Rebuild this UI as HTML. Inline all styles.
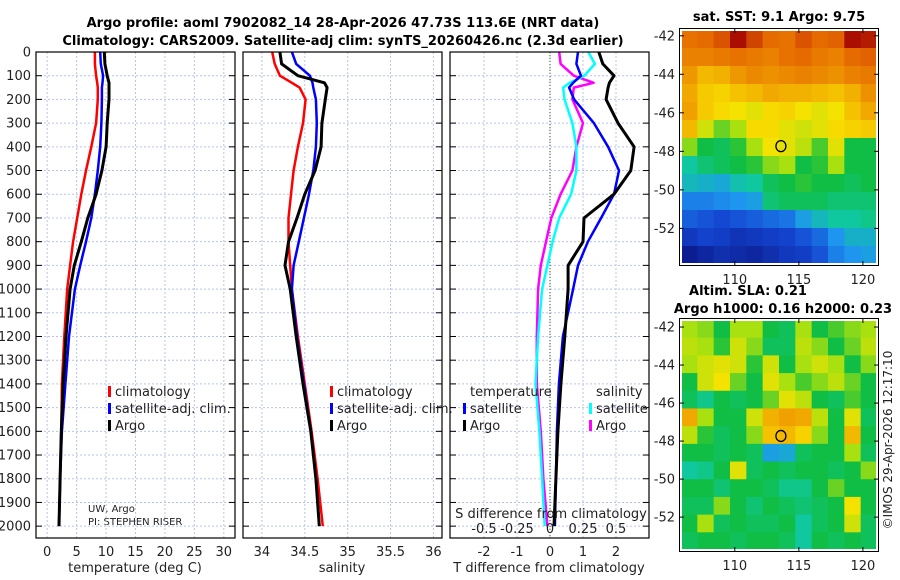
<!DOCTYPE html>
<html><head><meta charset="utf-8">
<style>
html,body{margin:0;padding:0;background:#fff;}
svg{display:block;font-family:"DejaVu Sans","Liberation Sans",sans-serif;}
</style></head>
<body>
<svg id="c" width="900" height="580" viewBox="0 0 900 580" xmlns="http://www.w3.org/2000/svg">
<text x="343" y="27" font-size="13" font-weight="bold" text-anchor="middle">Argo profile: aoml 7902082_14 28-Apr-2026 47.73S 113.6E (NRT data)</text>
<text x="343" y="45" font-size="13" font-weight="bold" text-anchor="middle">Climatology: CARS2009. Satellite-adj clim: synTS_20260426.nc (2.3d earlier)</text>
<text x="779" y="21" font-size="13" font-weight="bold" text-anchor="middle">sat. SST: 9.1 Argo: 9.75</text>
<text x="748" y="295" font-size="13" font-weight="bold" text-anchor="middle">Altim. SLA: 0.21</text>
<text x="783" y="313" font-size="13" font-weight="bold" text-anchor="middle">Argo h1000: 0.16 h2000: 0.23</text>
<text transform="translate(892,440) rotate(-90)" font-size="12" text-anchor="middle" fill="#222">©IMOS 29-Apr-2026 12:17:10</text>
<text x="88" y="512" font-size="10" fill="#222">UW, Argo</text>
<text x="88" y="525" font-size="10" fill="#222">PI: STEPHEN RISER</text>
</svg>
<script>
// ---------- data ----------
const depths = [0,50,100,130,150,200,300,400,500,600,700,800,900,1000,1200,1400,1600,1800,2000];
const tempArgo = [9.7,9.8,10.2,10.5,10.5,10.5,10.2,10.0,9.3,8.3,6.9,5.8,4.6,3.9,3.2,2.7,2.4,2.2,2.0];
const tempSat  = [9.0,9.1,9.5,9.4,9.3,9.3,9.2,9.0,8.6,8.1,7.5,6.6,5.6,4.7,3.7,3.1,2.5,2.2,2.0];
const tempClim = [8.1,8.1,8.3,8.5,8.6,8.6,8.3,7.5,6.6,5.8,5.1,4.4,3.9,3.4,2.9,2.5,2.4,2.2,2.0];
const salArgo = [34.21,34.23,34.42,34.73,34.76,34.74,34.70,34.69,34.62,34.50,34.41,34.31,34.27,34.33,34.40,34.48,34.57,34.63,34.67];
const salSat  = [34.35,34.40,34.56,34.59,34.60,34.63,34.64,34.63,34.60,34.55,34.49,34.43,34.37,34.35,34.41,34.49,34.57,34.63,34.67];
const salClim = [34.12,34.15,34.21,34.35,34.44,34.51,34.48,34.42,34.37,34.34,34.31,34.31,34.33,34.35,34.42,34.50,34.58,34.65,34.71];
const dTArgo = [1.48,1.6,1.94,1.8,1.76,1.7,2.06,2.55,2.45,1.94,1.03,1.0,0.55,0.55,0.45,0.33,0.24,0.18,0.12];
const dTSat  = [0.85,0.8,0.94,0.7,0.58,0.73,1.33,1.76,2.09,1.94,1.55,1.15,0.85,0.7,0.39,0.27,0.21,0.18,0.15];
const dSSat  = [0.29,0.34,0.26,0.15,0.10,0.11,0.17,0.20,0.20,0.16,0.07,0.02,-0.02,-0.06,-0.09,-0.11,-0.08,-0.06,-0.04];
const dSArgo = [0.07,0.08,0.18,0.33,0.18,0.17,0.25,0.20,0.17,0.08,0.01,-0.03,-0.07,-0.09,-0.10,-0.10,-0.07,-0.05,-0.02];
const depthTicks = [0,100,200,300,400,500,600,700,800,900,1000,1100,1200,1300,1400,1500,1600,1700,1800,1900,2000];
const tempTicks = [0,5,10,15,20,25,30];
const salTicks = [34,34.5,35,35.5,36];
const salTickLabels = ['34','34.5','35','35.5','36'];
const dTTicks = [-2,-1,0,1,2];
const dSTicks = [-0.5,-0.25,0,0.25,0.5];
const dSTickLabels = ['-0.5','-0.25','0','0.25','0.5'];
const latTicks = [-42,-44,-46,-48,-50,-52];
const lonTicks = [110,115,120];
const argoLon = 113.6, argoLat = -47.73;
const sstGrid = [
[12.1,12.2,12.4,12.9,12.5,12.2,12.1,12.4,12.2,12.3,12.9,12.8],
[11.9,11.9,12.0,12.1,12.0,11.9,12.1,12.2,12.0,11.9,12.2,12.3],
[11.6,11.2,11.3,11.6,11.8,11.7,11.8,11.9,11.8,11.7,11.9,12.0],
[11.4,11.0,10.9,11.1,11.2,11.4,11.3,11.3,11.2,11.1,11.3,11.7],
[11.5,11.0,10.8,10.7,10.6,10.8,10.9,10.7,10.6,10.7,11.1,11.4],
[11.2,10.5,10.1,10.3,10.8,10.8,10.6,10.5,10.6,10.8,10.9,11.0],
[10.2,9.8,9.7,9.9,10.3,10.7,10.6,10.4,10.0,10.6,9.8,9.8],
[9.4,9.6,9.7,9.8,9.9,10.2,10.3,9.8,9.9,10.3,9.8,9.8],
[9.2,9.1,9.0,9.3,9.4,9.7,9.8,9.9,9.8,9.8,9.7,9.8],
[8.6,8.6,8.7,8.8,8.9,9.6,9.7,9.7,9.7,9.6,9.6,9.6],
[8.3,8.2,8.1,8.2,8.3,8.4,8.5,8.9,9.2,9.4,9.4,9.5],
[7.8,8.0,7.9,7.7,7.8,7.9,8.0,8.2,8.4,8.8,9.1,9.1],
[7.2,7.4,7.6,7.5,7.4,7.6,7.8,7.9,8.2,8.6,8.8,8.9]];
const slaGrid = [
[0.06,0.04,-0.04,0.06,0.06,-0.04,-0.06,0.06,-0.04,0.00,0.04,0.06],
[0.08,0.06,-0.02,0.10,0.04,-0.06,-0.06,0.08,0.04,-0.04,0.02,0.08],
[0.06,0.10,0.12,0.10,-0.02,0.10,-0.04,0.06,0.10,0.06,-0.04,0.04],
[-0.04,0.10,0.14,0.02,-0.04,0.12,0.06,0.00,0.04,0.08,0.02,-0.04],
[-0.06,-0.10,-0.04,-0.06,-0.04,0.02,0.12,0.08,-0.04,-0.06,0.00,-0.04],
[0.28,0.06,-0.04,-0.04,0.10,0.26,0.30,0.28,0.08,-0.04,0.12,-0.06],
[0.08,-0.02,-0.06,-0.04,0.04,0.22,0.24,0.18,0.04,-0.04,0.24,-0.04],
[-0.04,-0.04,-0.06,-0.04,-0.06,-0.22,-0.20,-0.06,-0.04,-0.04,0.06,-0.06],
[-0.12,-0.10,-0.04,0.12,-0.06,-0.04,-0.06,-0.04,-0.04,-0.06,-0.04,0.04],
[-0.04,-0.04,-0.08,-0.04,-0.04,-0.06,-0.10,-0.10,-0.04,0.02,-0.04,-0.04],
[-0.06,-0.06,0.04,-0.04,-0.08,-0.04,-0.06,-0.08,-0.06,-0.04,0.14,-0.04],
[-0.04,0.06,-0.06,-0.04,-0.06,-0.06,-0.04,-0.12,-0.06,-0.04,0.10,-0.06],
[-0.06,-0.04,-0.04,-0.06,-0.04,-0.04,-0.06,-0.12,-0.04,-0.06,-0.04,-0.06]];

// ---------- helpers ----------
const svg = document.getElementById('c');
const NS = 'http://www.w3.org/2000/svg';
function mk(tag, attrs, parent){
  const e = document.createElementNS(NS, tag);
  for (const k in attrs) e.setAttribute(k, attrs[k]);
  (parent||svg).appendChild(e);
  return e;
}
const Y0 = 52, Y1 = 538, DMAX = 2050;
const yD = d => Y0 + (d/DMAX)*(Y1-Y0);
function xScale(x0,x1,v0,v1){ return v => x0 + (v-v0)/(v1-v0)*(x1-x0); }

function panelFrame(x0,x1,name,gridVals,sx){
  const g = mk('g',{});
  
  
  gridVals.forEach(v=>{
    const l = mk('line',{x1:sx(v),x2:sx(v),y1:Y0,y2:Y1,stroke:'#b8c4ee','stroke-width':1,'stroke-dasharray':'2,2'},g);
    
    
  });
  depthTicks.forEach(d=>{
    const l = mk('line',{x1:x0,x2:x1,y1:yD(d),y2:yD(d),stroke:'#b8c4ee','stroke-width':1,'stroke-dasharray':'2,2'},g);
    
    
    mk('line',{x1:x0,x2:x0+6,y1:yD(d),y2:yD(d),stroke:'#000'},g);
    mk('line',{x1:x1-6,x2:x1,y1:yD(d),y2:yD(d),stroke:'#000'},g);
  });
  return g;
}
function border(x0,x1,name){
  const r = mk('rect',{x:x0,y:Y0,width:x1-x0,height:Y1-Y0,fill:'none',stroke:'#000','stroke-width':1.2});
  
  
}
function profile(vals, sx, color, w, name){
  const pts = vals.map((v,i)=>sx(v).toFixed(1)+','+yD(depths[i]).toFixed(1)).join(' ');
  const p = mk('polyline',{points:pts,fill:'none',stroke:color,'stroke-width':w,'stroke-linejoin':'round'});
  
  
}
function xLabels(ticks, labels, sx, y, name){
  ticks.forEach((t,i)=>{
    const e = mk('text',{x:sx(t),y:y,'font-size':13,'text-anchor':'middle',fill:'#222'});
    e.textContent = labels ? labels[i] : String(t);
    
    
  });
}
function text(x,y,s,name,opts){
  const e = mk('text',Object.assign({x:x,y:y,'font-size':13,fill:'#222'},opts||{}));
  e.textContent = s;
  
  
  return e;
}
function legendBar(x,y,color,name){
  const r = mk('rect',{x:x,y:y-10,width:3,height:11,fill:color});
  
  
}

// ---------- panel 1: temperature ----------
const sxT = xScale(36,235,-1.9,31.9);
panelFrame(36,235,'temperature-panel',tempTicks,sxT);
profile(tempClim,sxT,'#ff0000',2.5,'temp-climatology-line');
profile(tempSat,sxT,'#0000ff',2.5,'temp-satellite-line');
profile(tempArgo,sxT,'#000000',3,'temp-argo-line');
border(36,235,'temperature-panel-border');
depthTicks.forEach(d=>{
  const e = mk('text',{x:31,y:yD(d)+4.5,'font-size':13,'text-anchor':'end',fill:'#222'});
  e.textContent = String(d);
  
  
});
xLabels(tempTicks,null,sxT,556,'temp-tick-label');
text(135,572,'temperature (deg C)','temp-axis-title',{'text-anchor':'middle'});
legendBar(108,396,'#ff0000','legend-climatology-swatch'); text(115,396,'climatology','legend-climatology-label');
legendBar(108,413,'#0000ff','legend-satellite-swatch'); text(115,413,'satellite-adj. clim.','legend-satellite-label');
legendBar(108,430,'#000000','legend-argo-swatch'); text(115,430,'Argo','legend-argo-label');

// ---------- panel 2: salinity ----------
const sxS = xScale(243,442,33.78,36.1);
panelFrame(243,442,'salinity-panel',salTicks,sxS);
profile(salClim,sxS,'#ff0000',2.5,'sal-climatology-line');
profile(salSat,sxS,'#0000ff',2.5,'sal-satellite-line');
profile(salArgo,sxS,'#000000',3,'sal-argo-line');
border(243,442,'salinity-panel-border');
xLabels(salTicks,salTickLabels,sxS,556,'sal-tick-label');
text(342,572,'salinity','sal-axis-title',{'text-anchor':'middle'});
legendBar(330,396,'#ff0000','legend2-climatology-swatch'); text(337,396,'climatology','legend2-climatology-label');
legendBar(330,413,'#0000ff','legend2-satellite-swatch'); text(337,413,'satellite-adj. clim.','legend2-satellite-label');
legendBar(330,430,'#000000','legend2-argo-swatch'); text(337,430,'Argo','legend2-argo-label');

// ---------- panel 3: differences ----------
const sxDT = xScale(450,649,-3.03,3.0);
const sxDS = v => sxDT(v*4);
panelFrame(450,649,'difference-panel',dTTicks,sxDT);
const zl = mk('line',{x1:sxDT(0),x2:sxDT(0),y1:Y0,y2:Y1,stroke:'#3a5a20','stroke-width':1,'stroke-dasharray':'1,2'});


profile(dSArgo,sxDS,'#ff00ff',2.5,'sdiff-argo-line');
profile(dSSat,sxDS,'#00ffff',2.5,'sdiff-satellite-line');
profile(dTSat,sxDT,'#0000ff',2.5,'tdiff-satellite-line');
profile(dTArgo,sxDT,'#000000',3,'tdiff-argo-line');
border(450,649,'difference-panel-border');
xLabels(dTTicks,null,sxDT,556,'tdiff-tick-label');
text(549,572,'T difference from climatology','tdiff-axis-title',{'text-anchor':'middle'});
text(551,518,'S difference from climatology','sdiff-axis-title',{'text-anchor':'middle'});
xLabels(dSTicks,dSTickLabels,sxDS,533,'sdiff-tick-label');
text(470,396,'temperature','legend3-temperature-heading');
legendBar(463,413,'#0000ff','legend3-tsat-swatch'); text(470,413,'satellite','legend3-tsat-label');
legendBar(463,430,'#000000','legend3-targo-swatch'); text(470,430,'Argo','legend3-targo-label');
text(596,396,'salinity','legend3-salinity-heading');
legendBar(589,413,'#00ffff','legend3-ssat-swatch'); text(596,413,'satellite','legend3-ssat-label');
legendBar(589,430,'#ff00ff','legend3-sargo-swatch'); text(596,430,'Argo','legend3-sargo-label');

// ---------- maps ----------
const stops = [[0,[10,20,130]],[0.18,[20,70,210]],[0.3,[30,150,240]],[0.4,[16,200,160]],[0.47,[16,190,64]],[0.55,[168,224,16]],[0.62,[248,226,0]],[0.75,[240,160,0]],[0.88,[228,100,0]],[1,[160,0,0]]];
function cmap(t){
  t = Math.max(0,Math.min(1,t));
  for (let i=1;i<stops.length;i++){
    if (t<=stops[i][0]){
      const a=stops[i-1], b=stops[i], f=(t-a[0])/(b[0]-a[0]);
      const c=a[1].map((v,k)=>Math.round(v+(b[1][k]-v)*f));
      return 'rgb('+c.join(',')+')';
    }
  }
  return 'rgb(160,0,0)';
}
function drawMap(mx0,mx1,my0,my1,lon0,lon1,lat0,lat1,grid,vmin,vmax,name){
  const sx = xScale(mx0,mx1,lon0,lon1);
  const sy = v => my0 + (v-lat0)/(lat1-lat0)*(my1-my0);
  const g = mk('g',{});
  
  
  const rows = grid.length, cols = grid[0].length;
  const cw = (mx1-mx0)/cols, ch = (my1-my0)/rows;
  grid.forEach((row,r)=>row.forEach((v,c)=>{
    const cell = mk('rect',{x:(mx0+c*cw).toFixed(2),y:(my0+r*ch).toFixed(2),width:(cw+0.6).toFixed(2),height:(ch+0.6).toFixed(2),fill:cmap((v-vmin)/(vmax-vmin))},g);
    
    
  }));
  mk('rect',{x:mx0,y:my0,width:mx1-mx0,height:my1-my0,fill:'none',stroke:'#fff','stroke-width':2},g);
  mk('rect',{x:mx0-1.5,y:my0-1.5,width:mx1-mx0+3,height:my1-my0+3,fill:'none',stroke:'#000','stroke-width':1},g);
  latTicks.forEach(t=>{
    const y = sy(t);
    mk('line',{x1:mx0-1.5,x2:mx0+3,y1:y,y2:y,stroke:'#000'},g);
    mk('line',{x1:mx1-3,x2:mx1+1.5,y1:y,y2:y,stroke:'#000'},g);
    const e = mk('text',{x:mx0-6,y:y+4.5,'font-size':13,'text-anchor':'end',fill:'#222'},g);
    e.textContent = String(t);
    
    
  });
  lonTicks.forEach(t=>{
    const x = sx(t);
    mk('line',{x1:x,x2:x,y1:my1-3,y2:my1+1.5,stroke:'#000'},g);
    mk('line',{x1:x,x2:x,y1:my0-1.5,y2:my0+3,stroke:'#000'},g);
    const e = mk('text',{x:x,y:my1+20,'font-size':13,'text-anchor':'middle',fill:'#222'},g);
    e.textContent = String(t);
    
    
  });
  const m = mk('ellipse',{cx:sx(argoLon),cy:sy(argoLat),rx:5,ry:5.5,fill:'none',stroke:'#000','stroke-width':1.3},g);
  
  
}
drawMap(681,877,30,264,105.8,121.1,-41.7,-53.85,sstGrid,7,13,'sst-map');
drawMap(681,877,320,550,105.8,121.1,-41.63,-53.73,slaGrid,-0.6,0.6,'sla-map');
</script>
</body></html>
